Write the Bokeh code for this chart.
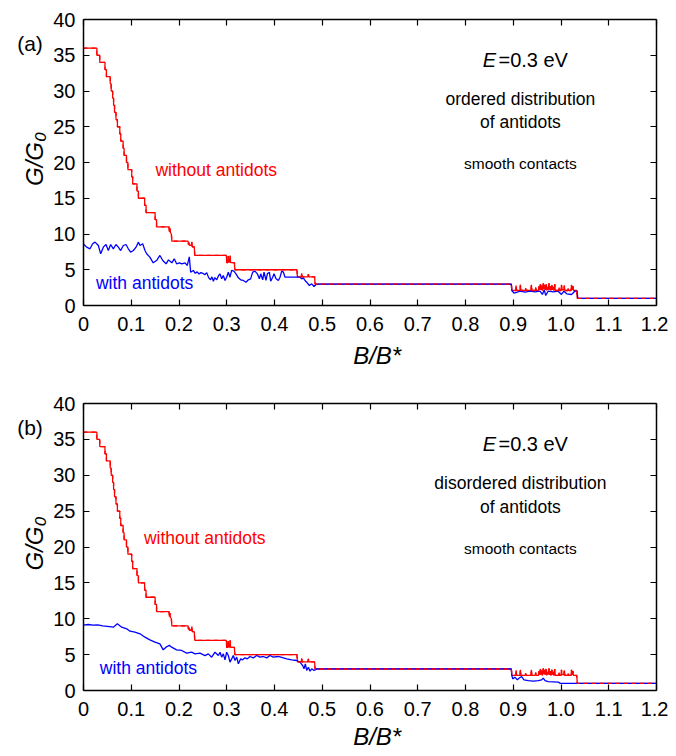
import math
from bokeh.plotting import figure
from bokeh.models import Range1d, LinearAxis, FixedTicker, CustomJSTickFormatter, Label
from bokeh.layouts import column
from bokeh.embed import file_html
from bokeh.resources import INLINE

FONT = "Liberation Sans"

x_ticks = [0, 0.1, 0.2, 0.3, 0.4, 0.5, 0.6, 0.7, 0.8, 0.9, 1.0, 1.1, 1.2]
y_ticks = [0, 5, 10, 15, 20, 25, 30, 35, 40]
X_MIN, X_MAX = 0.0, 1.2
Y_MIN, Y_MAX = 0.0, 40.0

# G/G0 without antidots (same clean system in both panels)
red_pts = [
    (0, 36), (0.028, 36), (0.028, 35), (0.034, 35), (0.034, 34), (0.045, 34), (0.045, 33),
    (0.048, 33), (0.048, 32), (0.056, 32), (0.056, 31), (0.058, 31), (0.058, 30), (0.061, 30),
    (0.061, 29), (0.063, 29), (0.063, 28), (0.065, 28), (0.065, 27), (0.068, 27), (0.068, 26),
    (0.071, 26), (0.071, 25), (0.076, 25), (0.076, 24), (0.078, 24), (0.078, 23), (0.083, 23),
    (0.083, 22), (0.085, 22), (0.085, 21), (0.090, 21), (0.090, 20), (0.093, 20), (0.093, 19),
    (0.101, 19), (0.101, 18), (0.103, 18), (0.103, 17), (0.112, 17), (0.112, 16), (0.115, 16),
    (0.115, 15), (0.128, 15), (0.128, 14), (0.131, 14), (0.131, 13), (0.150, 13), (0.150, 12),
    (0.153, 12), (0.153, 11), (0.179, 11), (0.180, 10.3), (0.181, 10.8), (0.182, 10.2),
    (0.184, 10), (0.185, 9), (0.219, 9), (0.220, 8.5), (0.221, 8.8), (0.222, 8.4), (0.226, 8.4),
    (0.227, 8.9), (0.228, 8.2), (0.232, 8.2), (0.233, 7), (0.299, 7), (0.300, 6), (0.302, 6),
    (0.303, 6.9), (0.304, 6.1), (0.306, 6.1), (0.307, 7), (0.308, 6), (0.316, 6), (0.317, 5),
    (0.447, 5), (0.448, 4), (0.456, 4), (0.457, 4.5), (0.458, 4), (0.470, 4), (0.471, 4.4),
    (0.472, 4), (0.484, 4), (0.485, 3), (0.896, 3), (0.897, 2.1), (0.905, 2.1), (0.906, 2.8),
    (0.907, 2.1), (0.914, 2.1), (0.915, 2.9), (0.916, 2.1), (0.925, 2.1), (0.926, 2.4),
    (0.927, 2.1), (0.937, 2.1), (0.938, 2.9), (0.939, 2.1), (0.946, 2.1), (0.947, 2.5),
    (0.948, 2.1), (0.953, 2.1), (0.954, 2.7), (0.955, 2.2), (0.957, 3.0), (0.958, 2.2),
    (0.960, 2.8), (0.961, 2.1), (0.963, 3.1), (0.964, 2.3), (0.966, 2.9), (0.967, 2.2),
    (0.969, 3.0), (0.970, 2.1), (0.972, 2.6), (0.973, 2.2), (0.975, 3.1), (0.976, 2.2),
    (0.978, 2.7), (0.979, 2.1), (0.981, 2.9), (0.982, 2.2), (0.984, 2.6), (0.985, 2.1),
    (0.987, 3.0), (0.988, 2.1), (0.995, 2.1), (0.996, 2.5), (0.997, 2.1), (1.000, 2.1),
    (1.001, 2.9), (1.002, 2.2), (1.006, 2.2), (1.007, 2.8), (1.008, 2.1), (1.014, 2.1),
    (1.015, 2.4), (1.016, 2.1), (1.021, 2.1), (1.022, 2.9), (1.023, 2.2), (1.025, 2.7),
    (1.026, 2.1), (1.033, 2.1), (1.034, 1), (1.2, 1),
]

# G/G0 with ordered antidots (panel a)
blue_a_pts = [
    (0.0, 8.6), (0.0066, 8.16), (0.0136, 7.93), (0.0192, 8.63), (0.0241, 8.86), (0.0311, 8.39),
    (0.036, 7.23), (0.0415, 8.16), (0.0471, 8.53), (0.052, 7.69), (0.0569, 8.53), (0.0625, 7.93),
    (0.068, 8.53), (0.073, 8.16), (0.0778, 7.69), (0.0834, 8.39), (0.089, 8.53), (0.0939, 7.93),
    (0.0988, 7.46), (0.1044, 7.69), (0.11, 8.16), (0.1148, 8.86), (0.1183, 8.39), (0.1239, 8.63),
    (0.1288, 7.69), (0.1323, 7.23), (0.139, 6.76), (0.146, 5.97), (0.153, 6.29), (0.160, 7.0),
    (0.166, 6.29), (0.173, 5.83), (0.178, 6.38), (0.185, 5.97), (0.190, 6.53), (0.195, 5.83),
    (0.201, 5.97), (0.206, 5.83), (0.2126, 5.97), (0.2174, 5.6), (0.2216, 6.8), (0.2244, 4.66),
    (0.230, 4.9), (0.234, 4.5), (0.238, 4.7), (0.242, 4.4), (0.246, 4.6), (0.250, 4.5),
    (0.254, 4.3), (0.258, 4.6), (0.262, 3.9), (0.266, 3.6), (0.269, 4.0), (0.272, 3.4),
    (0.275, 3.9), (0.279, 3.6), (0.283, 4.2), (0.286, 4.43), (0.2893, 3.73), (0.2928, 4.2),
    (0.2963, 3.5), (0.2998, 3.96), (0.3033, 4.66), (0.3068, 3.96), (0.3103, 4.9), (0.315, 4.8),
    (0.3194, 4.43), (0.3243, 3.87), (0.3291, 3.59), (0.3347, 3.5), (0.3403, 3.26), (0.3452, 3.59),
    (0.35, 3.73), (0.3543, 4.66), (0.3592, 4.8), (0.3641, 4.43), (0.3683, 3.73), (0.3711, 4.43),
    (0.3753, 3.59), (0.3781, 4.66), (0.3822, 3.5), (0.385, 4.43), (0.3892, 4.66), (0.392, 3.4),
    (0.3962, 3.96), (0.399, 4.43), (0.4032, 3.73), (0.4081, 3.5), (0.4116, 3.96), (0.4151, 4.8),
    (0.4186, 4.66), (0.4221, 3.96), (0.4534, 3.96), (0.4569, 3.73), (0.4604, 3.87), (0.4639, 3.5),
    (0.4674, 3.26), (0.473, 2.8), (0.4779, 3.03), (0.4828, 2.66), (0.487, 2.94), (0.4918, 3.0),
    (0.896, 3.0), (0.897, 2.1), (0.9016, 1.72), (0.907, 1.82), (0.914, 2.0), (0.9247, 1.87),
    (0.935, 2.0), (0.9455, 1.9), (0.956, 2.0), (0.961, 1.54), (0.965, 2.19), (0.968, 1.4),
    (0.973, 2.0), (0.984, 1.9), (0.994, 2.0), (1.001, 1.54), (1.006, 2.0), (1.012, 1.63),
    (1.022, 1.54), (1.03, 2.05), (1.034, 2.0), (1.035, 1.0), (1.2, 1.0),
]

# G/G0 with disordered antidots (panel b)
blue_b_pts = [
    (0.0, 9.1), (0.01, 9.2), (0.02, 9.1), (0.03, 9.15), (0.04, 9.0), (0.05, 8.95), (0.0625, 8.83),
    (0.0709, 9.29), (0.080, 8.83), (0.0904, 8.6), (0.0974, 8.27), (0.1078, 8.13), (0.1183, 7.9),
    (0.1288, 7.43), (0.139, 7.06), (0.1497, 6.74), (0.160, 6.5), (0.167, 5.67), (0.1728, 6.04),
    (0.1798, 6.3), (0.1846, 6.04), (0.195, 5.67), (0.2056, 5.58), (0.216, 5.2), (0.2265, 5.34),
    (0.2335, 5.11), (0.244, 5.2), (0.2544, 4.87), (0.2614, 5.11), (0.2684, 4.64), (0.2754, 5.34),
    (0.2824, 4.87), (0.286, 5.34), (0.2893, 4.65), (0.2928, 5.11), (0.2963, 4.27), (0.2998, 5.34),
    (0.3033, 4.88), (0.3068, 3.95), (0.3103, 4.41), (0.3138, 4.88), (0.3173, 4.18), (0.3208, 4.65),
    (0.3243, 3.72), (0.3291, 4.41), (0.3333, 4.27), (0.3382, 4.55), (0.3431, 4.41), (0.3487, 4.74),
    (0.3557, 4.55), (0.3627, 4.88), (0.3696, 4.65), (0.3766, 4.74), (0.3836, 4.55), (0.3906, 4.88),
    (0.3976, 4.65), (0.4081, 4.74), (0.4186, 4.55), (0.4256, 4.41), (0.4361, 4.27), (0.4466, 4.18),
    (0.4534, 3.95), (0.459, 3.48), (0.4618, 3.02), (0.4646, 3.72), (0.4674, 2.79), (0.4709, 3.25),
    (0.4744, 2.7), (0.4779, 3.02), (0.4828, 2.79), (0.4883, 3.02), (0.896, 3.0), (0.897, 2.09),
    (0.899, 1.62), (0.9036, 1.86), (0.9085, 1.49), (0.9127, 1.75), (0.9176, 1.95), (0.9225, 1.49),
    (0.9316, 1.39), (0.9421, 1.3), (0.9526, 1.39), (0.9595, 1.49), (0.963, 1.72), (0.9665, 1.39),
    (0.9735, 1.25), (0.984, 1.21), (0.9944, 1.16), (0.9986, 1.0), (1.2, 1.0),
]

RED = "#ff0000"
BLUE = "#0000ff"

# canvas geometry (pixels): the whole canvas is the plot frame so that
# panel tags and axis titles (drawn as labels) are not clipped
CANVAS_W = 668
BOX_LEFT, BOX_RIGHT = 83, 656


def unzip(pts):
    return [p[0] for p in pts], [p[1] for p in pts]


def make_panel(tag, desc, blue_pts, canvas_h, box_top, box_bottom, xlab_gap, wo_pos, w_pos):
    pxx = (BOX_RIGHT - BOX_LEFT) / (X_MAX - X_MIN)
    pxy = (box_bottom - box_top) / (Y_MAX - Y_MIN)
    x_lo = X_MIN - BOX_LEFT / pxx
    x_hi = X_MAX + (CANVAS_W - BOX_RIGHT) / pxx
    y_lo = Y_MIN - (canvas_h - box_bottom) / pxy
    y_hi = Y_MAX + box_top / pxy

    p = figure(frame_width=CANVAS_W, frame_height=canvas_h,
               x_range=Range1d(x_lo, x_hi), y_range=Range1d(y_lo, y_hi),
               output_backend="svg", toolbar_location=None,
               min_border_left=0, min_border_right=0,
               min_border_top=0, min_border_bottom=0)
    p.xgrid.visible = False
    p.ygrid.visible = False
    p.outline_line_color = None
    p.background_fill_color = "white"
    p.border_fill_color = "white"

    xf = CustomJSTickFormatter(code="return tick == 0 ? '0' : tick.toFixed(1);")
    empty = CustomJSTickFormatter(code="return '';")

    def style(ax):
        ax.major_tick_in = 6
        ax.major_tick_out = 0
        ax.minor_tick_line_color = None
        ax.axis_line_width = 1.5
        ax.major_tick_line_width = 1.2
        ax.major_label_text_font = FONT
        ax.major_label_text_font_size = "20px"
        ax.major_label_text_color = "black"

    xa = p.xaxis[0]
    ya = p.yaxis[0]
    style(xa)
    style(ya)
    xa.ticker = FixedTicker(ticks=x_ticks)
    xa.formatter = xf
    xa.bounds = (X_MIN, X_MAX)
    xa.fixed_location = Y_MIN
    xa.major_label_standoff = 11
    ya.ticker = FixedTicker(ticks=y_ticks)
    ya.bounds = (Y_MIN, Y_MAX)
    ya.fixed_location = X_MIN
    ya.major_label_standoff = 8

    top = LinearAxis(ticker=FixedTicker(ticks=x_ticks), formatter=empty,
                     bounds=(X_MIN, X_MAX), fixed_location=Y_MAX)
    right = LinearAxis(ticker=FixedTicker(ticks=y_ticks), formatter=empty,
                       bounds=(Y_MIN, Y_MAX), fixed_location=X_MAX)
    for ax in (top, right):
        style(ax)
        ax.major_label_standoff = 0
    p.add_layout(top, "above")
    p.add_layout(right, "right")

    rx, ry = unzip(red_pts)
    bx, by = unzip(blue_pts)
    p.line(rx, ry, line_color=RED, line_width=1.3)
    p.line(bx, by, line_color=BLUE, line_width=1.3)
    p.line(rx, ry, line_color=RED, line_width=1.3, line_dash="4 4")

    def lab(x, y, text, size, color="black", style_="normal", align="center", angle=0.0):
        p.add_layout(Label(x=x, y=y, text=text, text_font=FONT, text_font_size=size,
                           text_color=color, text_font_style=style_, angle=angle,
                           text_align=align, text_baseline="middle"))

    # axis titles
    lab(0.615, Y_MIN - xlab_gap / pxy, "B/B*", "24px", style_="italic")
    lab(X_MIN - 49 / pxx, 20.5, "G/G\u2080", "24px", style_="italic", angle=math.pi / 2)
    # panel tag and annotations
    lab(-0.112, 36.7, tag, "21px")
    lab(wo_pos[0], wo_pos[1], "without antidots", "17.5px", RED)
    lab(w_pos[0], w_pos[1], "with antidots", "17.5px", BLUE)
    lab(0.836, 34.3, "E", "20px", style_="italic", align="left")
    lab(0.869, 34.3, "=0.3 eV", "20px", align="left")
    lab(0.915, 28.9, desc, "17.5px")
    lab(0.915, 25.6, "of antidots", "17.5px")
    lab(0.915, 19.8, "smooth contacts", "15.5px")
    return p


pa = make_panel("(a)", "ordered distribution", blue_a_pts, 368, 19, 305, 50,
                (0.278, 18.9), (0.128, 3.1))
pb = make_panel("(b)", "disordered distribution", blue_b_pts, 386, 35, 322, 46,
                (0.254, 21.2), (0.136, 3.07))

layout = column(pa, pb, spacing=0)
open("out.html", "w").write(file_html(layout, INLINE))
